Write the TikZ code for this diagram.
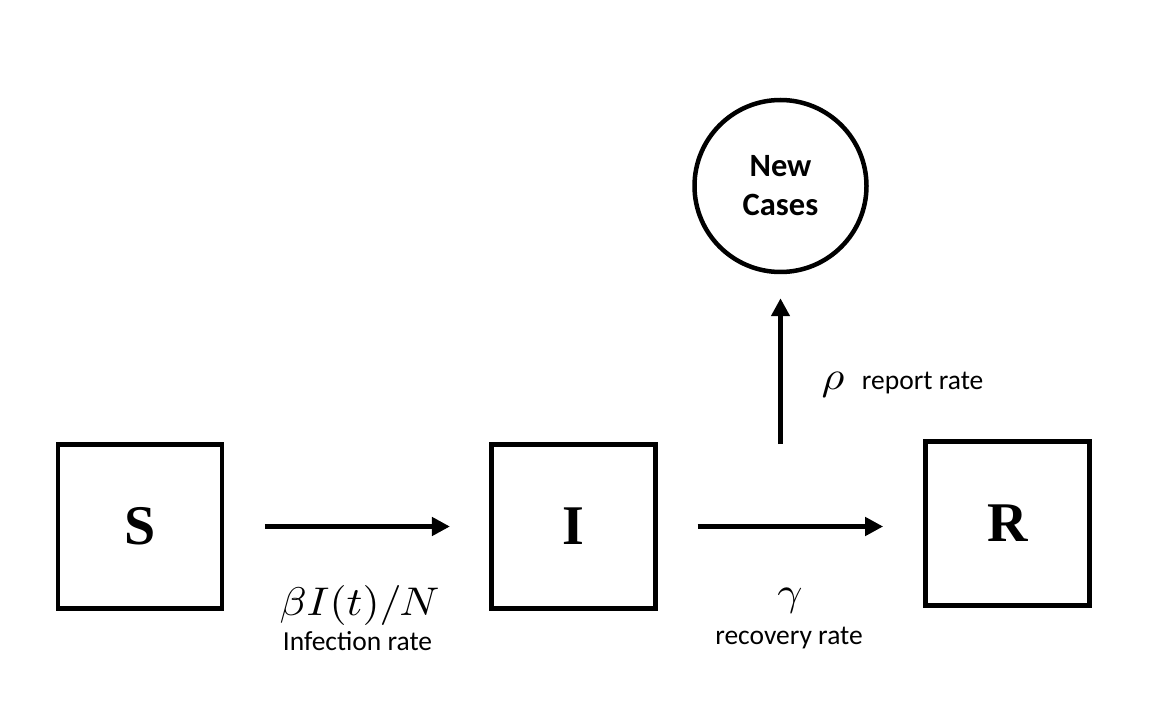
\documentclass[tikz,border=0pt]{standalone}
\usepackage[no-math]{fontspec}
\setmainfont{Carlito}
\newfontfamily\tnr{Liberation Serif}
\usetikzlibrary{arrows.meta}
\begin{document}
\begin{tikzpicture}[x=1pt,y=-1pt,
  box/.style={draw, line width=4.7pt, minimum width=164pt, minimum height=164pt, inner sep=0pt,
    font=\tnr\bfseries\fontsize{56}{60}\selectfont},
  flow/.style={line width=5pt, -{Triangle[length=18pt,width=18pt]}},
  lab/.style={font=\fontsize{27.5}{30}\selectfont, anchor=base, inner sep=0pt},
  mlab/.style={font=\fontsize{10}{12}\selectfont, anchor=base, inner sep=0pt}]
\useasboundingbox (0,0) rectangle (1168,727);
\node[box] (S) at (140,526.5) {S};
\node[box] (I) at (573.3,526.5) {I};
\node[box] (R) at (1007.5,523.3) {R};
\node[circle, draw, line width=4.5pt, minimum size=172pt, inner sep=0pt, align=center,
  font=\bfseries\fontsize{32.5}{39}\selectfont] (NC) at (780.5,186) {New\\Cases};
\coordinate (rp) at (780.5,444);
\draw[flow, shorten <=40.6pt, shorten >=39pt] (S) -- (I);
\draw[flow, shorten <=40pt, shorten >=40pt] (I.east) -- (I.east -| R.west);
\draw[flow, shorten >=24pt] (rp) -- (NC);
\node[mlab] (m1) at (359.5,615) {\scalebox{4.4}[4]{$\beta I(t)/N$}};
\node[lab] (l1) at (357.5,650) {Infection rate};
\node[mlab] (m2) at (790,605) {\scalebox{4.4}[4]{$\gamma$}};
\node[lab] (l2) at (789,644) {recovery rate};
\node[mlab] (m3) at (833,389) {\scalebox{4.4}[4]{$\rho$}};
\node[lab, anchor=base west] (l3) at (861.7,389) {report rate};
\end{tikzpicture}
\end{document}
